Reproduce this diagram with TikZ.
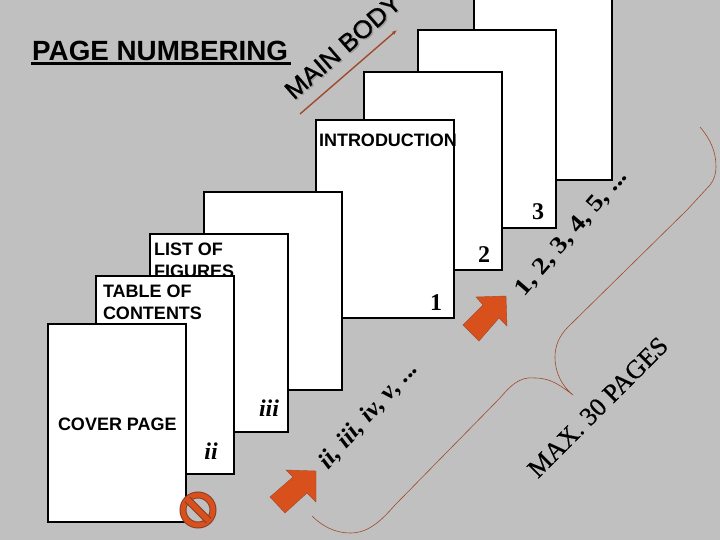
\documentclass[tikz,border=0pt]{standalone}
\usepackage{fontspec}
\setmainfont{Liberation Serif}
\setsansfont{Liberation Sans}
\usetikzlibrary{arrows.meta}
\definecolor{bg}{HTML}{C0C0C0}
\definecolor{orng}{HTML}{D8501C}
\definecolor{brn}{HTML}{A0492C}
\tikzset{
  x=1pt,y=-1pt,
  page/.style={draw=black,fill=white,line width=2.6pt,anchor=north west,inner sep=0pt,outer sep=0pt,minimum width=138pt,minimum height=198pt},
  lbl/.style={anchor=base west,inner sep=0pt,outer sep=0pt,font=\sffamily\bfseries\fontsize{18}{20}\selectfont},
  num/.style={anchor=base,inner sep=0pt,outer sep=0pt,font=\rmfamily\bfseries\fontsize{24}{26}\selectfont},
  inum/.style={anchor=base,inner sep=0pt,outer sep=0pt,font=\rmfamily\bfseries\itshape\fontsize{24}{26}\selectfont},
  seq/.style={anchor=base west,inner sep=0pt,outer sep=0pt,font=\rmfamily\bfseries\fontsize{24}{26}\selectfont},
  iseq/.style={anchor=base west,inner sep=0pt,outer sep=0pt,font=\rmfamily\bfseries\itshape\fontsize{24}{26}\selectfont},
  body/.style={anchor=base west,inner sep=0pt,outer sep=0pt,font=\sffamily\fontsize{25}{27}\selectfont},
  maxp/.style={anchor=base west,inner sep=0pt,outer sep=0pt,font=\rmfamily\fontsize{26}{28}\selectfont},
  bigarrow/.style={fill=orng,draw=brn,line width=0.4pt,line join=miter},
  bracecurve/.style={draw=brn,line width=0.6pt},
}
\begin{document}
\begin{tikzpicture}
\useasboundingbox (0,0) rectangle (720,540);
\clip (0,0) rectangle (720,540);
\fill[bg] (0,0) rectangle (720,540);

% stacked pages, back to front
\node[page] (p5) at (474,-18) {};
\node[page] (p4) at (418,30) {};
\node[page] (p3) at (364,72) {};
\node[page] (intro) at (316,120) {};
\node[page] (p2) at (204,192) {};
\node[page] (lof) at (150,234) {};
\node[lbl] (t1) at (154,255) {LIST OF};
\node[lbl] (t2) at (154,277) {FIGURES};
\node[page] (toc) at (96,276) {};
\node[page] (cover) at (48,324) {};

\node[lbl] (t3) at (319,147) {INTRODUCTION};
\node[lbl] (t4) at (103,297) {TABLE OF};
\node[lbl] (t5) at (103,319) {CONTENTS};
\node[lbl] (t6) at (58,430) {COVER PAGE};

\node[num] (n1) at (436,310) {1};
\node[num] (n2) at (484,262) {2};
\node[num] (n3) at (538,219) {3};
\node[inum] (r3) at (269,416) {iii};
\node[inum] (r2) at (211,459) {ii};

% title
\node[anchor=base west,inner sep=0pt,font=\sffamily\bfseries\fontsize{27.8}{30}\selectfont] (title) at (32,60.5) {PAGE NUMBERING};
\coordinate (ula) at (31,63.5);
\coordinate (ulb) at (291,63.5);
\draw[black,line width=2.2pt] (ula) -- (ulb);

% main body
\node[body,rotate=41,xscale=1.03,text=black!40] (mbs) at (295.5,101.5) {\addfontfeature{FakeBold=1}MAIN BODY};
\node[body,rotate=41,xscale=1.03] (mb) at (294,100.5) {\addfontfeature{FakeBold=1}MAIN BODY};
\coordinate (la) at (300,114);
\coordinate (lb) at (397,30);
\draw[brn,line width=1.4pt,-{Latex[length=5pt,width=4pt]}] (la) -- (lb);

% rotated sequences
\node[seq,rotate=49,xscale=1.15] (s1) at (524,297) {1, 2, 3, 4, 5, ...};
\node[iseq,rotate=48,xscale=1.08] (s2) at (328,470) {ii, iii, iv, v, ...};
\node[maxp,rotate=45] (s3) at (538,479) {\addfontfeature{FakeBold=0.6}MAX. 30 PAGES};

% block arrows
\fill[bigarrow] (476,297) -- (506,296) -- (507,326) -- (499,318) -- (479,341) -- (463,325) -- (483,305) -- cycle;
\fill[bigarrow,draw=brn] (286,470) -- (316,471) -- (316,502) -- (307,493) -- (285,513) -- (270,497) -- (293,477) -- cycle;

% no sign
\node[circle,draw=brn!85!black,fill=bg,line width=7pt,minimum size=30pt,inner sep=0pt,outer sep=0pt,
      postaction={draw=orng,line width=5pt}] (no) at (198,510) {};
\path[draw=brn!85!black,line width=7.5pt] (no.135) -- (no.-45);
\path[draw=orng,line width=5.5pt] (no.135) -- (no.-45);

% brace
\coordinate (tip) at (573,395);
\draw[bracecurve,line join=round]
  (700,127) .. controls (711,140) and (716,152) .. (716,167)
  .. controls (716,174) and (714,180) .. (710,185)
  -- (687,210) -- (568,327)
  .. controls (559,336) and (555,346) .. (555,357)
  .. controls (555,373) and (562,386) .. (tip)
  .. controls (561,386) and (551,378) .. (535,378)
  .. controls (520,376) and (510,386) .. (500,398)
  -- (395,505)
  .. controls (380,522) and (368,533) .. (350,533)
  .. controls (335,533) and (322,526) .. (312,516);
\end{tikzpicture}
\end{document}
